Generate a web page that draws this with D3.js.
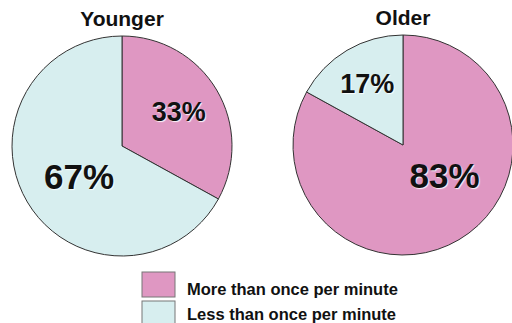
<!DOCTYPE html>
<html>
<head>
<meta charset="utf-8">
<script src="https://cdn.jsdelivr.net/npm/d3@7"></script>
<style>
  body { margin: 0; background: #fff; }
  text { font-family: "Liberation Sans", Arial, Helvetica, sans-serif; font-weight: bold; fill: #111; }
  .pct { text-shadow: 1px 1px 1px rgba(255,255,255,0.9); }
</style>
</head>
<body>
<svg id="chart" width="512" height="323"></svg>
<script>
// data
const groups = ["Younger", "Older"];
const categories = ["More than once per minute", "Less than once per minute"];
const younger = [33, 67];
const older = [83, 17];

const colors = ["#df97c2", "#d7eeef"];

const svg = d3.select("#chart");
const R = 110;

// label placement per group / slice: radius fraction, angle nudge (deg), font size
const labelLayout = [
  [{ k: 0.6, da: 0, size: 27 }, { k: 0.48, da: -5, size: 35 }],
  [{ k: 0.47, da: -23, size: 35 }, { k: 0.64, da: 0, size: 27 }]
];

const pie = d3.pie().sort(null).value(d => d);
const arc = d3.arc().innerRadius(0).outerRadius(R);

const pies = [
  { name: groups[0], values: younger, cx: 122, cy: 146 },
  { name: groups[1], values: older, cx: 403, cy: 145 }
];

pies.forEach((p, gi) => {
  const g = svg.append("g").attr("transform", `translate(${p.cx},${p.cy})`);

  g.selectAll("path")
    .data(pie(p.values))
    .join("path")
    .attr("d", arc)
    .attr("fill", (d, i) => colors[i])
    .attr("stroke", "#333")
    .attr("stroke-width", 1);

  // title
  g.append("text")
    .attr("x", 0)
    .attr("y", -R - 10)
    .attr("text-anchor", "middle")
    .attr("font-size", 21)
    .text(p.name);

  // percentage labels
  g.selectAll("text.pct")
    .data(pie(p.values))
    .join("text")
    .attr("class", "pct")
    .attr("text-anchor", "middle")
    .attr("dominant-baseline", "central")
    .attr("font-size", (d, i) => labelLayout[gi][i].size)
    .attr("transform", (d, i) => {
      const L = labelLayout[gi][i];
      const a = (d.startAngle + d.endAngle) / 2 + L.da * Math.PI / 180;
      const r = R * L.k;
      return `translate(${r * Math.sin(a)},${-r * Math.cos(a)})`;
    })
    .text(d => d.value + "%");
});

// legend
const legend = svg.append("g").attr("transform", "translate(142,272)");

legend.selectAll("rect")
  .data(categories)
  .join("rect")
  .attr("y", (d, i) => i * 29)
  .attr("width", 33)
  .attr("height", 25)
  .attr("fill", (d, i) => colors[i])
  .attr("stroke", "#777")
  .attr("stroke-width", 1);

legend.selectAll("text")
  .data(categories)
  .join("text")
  .attr("x", 45)
  .attr("y", (d, i) => 23 + i * 25)
  .attr("font-size", 16.5)
  .text(d => d);
</script>
</body>
</html>
